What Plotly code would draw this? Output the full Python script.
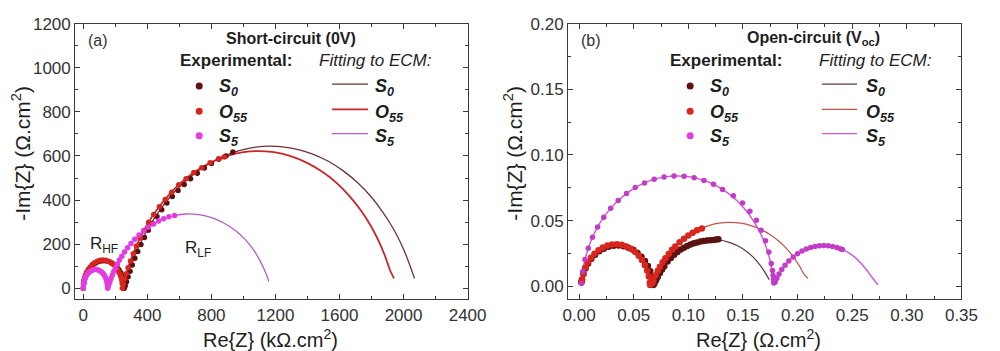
import plotly.graph_objects as go

# ---------------- DATA ----------------
# Panel (a): short-circuit, Re/Im in kOhm.cm2
a_S0_exp_x = [0, 2, 5, 9, 15, 23, 33, 45, 59, 75, 92, 110, 128, 146, 164, 181, 197, 211, 223, 233, 241, 247, 251, 254, 256,
              262, 270, 280, 292, 306, 322, 340, 360, 382, 406, 432, 460, 490, 522, 556, 592, 630, 670, 712, 756, 800, 846, 890, 934]
a_S0_exp_y = [0, 22, 35, 46, 59, 72, 84, 95, 105, 114, 120, 124, 125, 124, 120, 114, 105, 95, 84, 72, 59, 46, 35, 22, 0,
              12, 30, 52, 78, 106, 136, 167, 199, 230, 263, 294, 326, 356, 387, 416, 444, 471, 497, 522, 545, 566, 585, 600, 618]
a_S0_fit_x = [0, 2, 5, 9, 15, 23, 33, 45, 59, 75, 92, 110, 128, 146, 164, 181, 197, 211, 223, 233, 241, 247, 251, 254, 256,
              270, 290, 320, 360, 410, 470, 540, 620, 710, 810, 920, 1040, 1170, 1300, 1420, 1530, 1630, 1720, 1800, 1870,
              1930, 1980, 2020, 2050, 2068]
a_S0_fit_y = [0, 22, 35, 46, 59, 72, 84, 95, 105, 114, 120, 124, 125, 124, 120, 114, 105, 95, 84, 72, 59, 46, 35, 22, 0,
              37, 83, 142, 209, 278, 346, 413, 474, 529, 576, 612, 636, 645, 636, 612, 576, 529, 474, 413, 346,
              278, 209, 142, 83, 45]

a_O55_exp_x = [0, 2, 5, 9, 14, 21, 31, 43, 56, 71, 87, 104, 122, 140, 157, 173, 188, 201, 213, 223, 231, 237, 241, 243, 244,
               250, 258, 268, 280, 295, 312, 332, 355, 380, 408, 440, 475, 512, 552, 596, 642, 690, 740, 792, 846, 880]
a_O55_exp_y = [0, 22, 36, 48, 60, 72, 85, 97, 108, 116, 123, 127, 128, 127, 123, 116, 108, 97, 85, 72, 60, 48, 36, 22, 0,
               18, 44, 66, 93, 124, 157, 192, 228, 262, 300, 335, 370, 403, 436, 470, 497, 525, 547, 569, 587, 595]
a_O55_fit_x = [0, 2, 5, 9, 14, 21, 31, 43, 56, 71, 87, 104, 122, 140, 157, 173, 188, 201, 213, 223, 231, 237, 241, 243, 244,
               255, 275, 305, 345, 395, 455, 525, 605, 695, 795, 905, 1000, 1095, 1190, 1285, 1395, 1495, 1585, 1665,
               1735, 1795, 1845, 1885, 1915, 1940]
a_O55_fit_y = [0, 22, 36, 48, 60, 72, 85, 97, 108, 116, 123, 127, 128, 127, 123, 116, 108, 97, 85, 72, 60, 48, 36, 22, 0,
               32, 83, 145, 214, 284, 352, 416, 476, 527, 570, 602, 617, 622, 617, 602, 570, 527, 476, 416,
               352, 284, 214, 145, 83, 45]

a_S5_exp_x = [0, 1, 3, 6, 10, 15, 22, 30, 40, 52, 64, 76, 88, 100, 112, 122, 130, 137, 142, 146, 149, 151, 152,
              156, 161, 167, 174, 182, 191, 201, 213, 226, 241, 258, 277, 298, 322, 348, 376, 406, 438, 470, 502, 535, 570]
a_S5_exp_y = [0, 14, 24, 33, 42, 51, 60, 68, 75, 81, 84, 85, 84, 81, 75, 68, 60, 51, 42, 33, 24, 14, 0,
              10, 21, 33, 47, 62, 77, 93, 110, 128, 146, 165, 184, 203, 223, 242, 260, 277, 292, 305, 315, 324, 330]
a_S5_fit_x = [0, 1, 3, 6, 10, 15, 22, 30, 40, 52, 64, 76, 88, 100, 112, 122, 130, 137, 142, 146, 149, 151, 152,
              161, 174, 191, 213, 241, 277, 322, 376, 438, 502, 570, 640, 730, 810, 880, 950, 1010, 1060, 1100,
              1130, 1150, 1158]
a_S5_fit_y = [0, 14, 24, 33, 42, 51, 60, 68, 75, 81, 84, 85, 84, 81, 75, 68, 60, 51, 42, 33, 24, 14, 0,
              21, 47, 77, 110, 146, 184, 223, 260, 292, 315, 330, 337, 333, 318, 295, 262, 222, 178, 130,
              85, 50, 31]

# Panel (b): open-circuit, Ohm.cm2
b_S0_exp_x = [0.0021, 0.0027, 0.0040, 0.0059, 0.0083, 0.0113, 0.0147, 0.0185, 0.0226, 0.0270, 0.0316, 0.0362, 0.0407,
              0.0452, 0.0495, 0.0535, 0.0571, 0.0603, 0.0630, 0.0651, 0.0667, 0.0677, 0.0680,
              0.0690, 0.0705, 0.0720, 0.0740, 0.0760, 0.0780, 0.0810, 0.0840, 0.0870, 0.0900, 0.0930, 0.0960, 0.0990,
              0.1020, 0.1050, 0.1080, 0.1110, 0.1140, 0.1170, 0.1200, 0.1230, 0.1255, 0.1275]
b_S0_exp_y = [0.0030, 0.0049, 0.0093, 0.0135, 0.0174, 0.0209, 0.0240, 0.0266, 0.0286, 0.0300, 0.0308, 0.0310, 0.0305,
              0.0294, 0.0277, 0.0254, 0.0225, 0.0192, 0.0155, 0.0114, 0.0071, 0.0026, 0.0010,
              0.0020, 0.0045, 0.0070, 0.0100, 0.0127, 0.0153, 0.0188, 0.0215, 0.0239, 0.0261, 0.0279, 0.0294, 0.0307,
              0.0318, 0.0327, 0.0334, 0.0340, 0.0344, 0.0348, 0.0351, 0.0353, 0.0355, 0.0358]
b_S0_fit_x = [0.0021, 0.0027, 0.0040, 0.0059, 0.0083, 0.0113, 0.0147, 0.0185, 0.0226, 0.0270, 0.0316, 0.0362, 0.0407,
              0.0452, 0.0495, 0.0535, 0.0571, 0.0603, 0.0630, 0.0651, 0.0667, 0.0677, 0.0680,
              0.0700, 0.0730, 0.0770, 0.0820, 0.0880, 0.0950, 0.1030, 0.1110, 0.1180, 0.1220, 0.1280, 0.1360,
              0.1450, 0.1530, 0.1600, 0.1660, 0.1700, 0.1740]
b_S0_fit_y = [0.0030, 0.0049, 0.0093, 0.0135, 0.0174, 0.0209, 0.0240, 0.0266, 0.0286, 0.0300, 0.0308, 0.0310, 0.0305,
              0.0294, 0.0277, 0.0254, 0.0225, 0.0192, 0.0155, 0.0114, 0.0071, 0.0026, 0.0010,
              0.0041, 0.0092, 0.0145, 0.0198, 0.0247, 0.0289, 0.0323, 0.0345, 0.0354, 0.0355, 0.0352, 0.0338,
              0.0308, 0.0267, 0.0216, 0.0157, 0.0107, 0.0050]

b_O55_exp_x = [0.0021, 0.0027, 0.0039, 0.0057, 0.0080, 0.0108, 0.0141, 0.0178, 0.0217, 0.0259, 0.0302, 0.0346, 0.0390,
               0.0432, 0.0473, 0.0511, 0.0546, 0.0576, 0.0602, 0.0623, 0.0638, 0.0647, 0.0650,
               0.0655, 0.0670, 0.0680, 0.0700, 0.0720, 0.0740, 0.0765, 0.0790, 0.0820, 0.0850, 0.0880, 0.0920, 0.0960,
               0.1000, 0.1040, 0.1080, 0.1124]
b_O55_exp_y = [0.0030, 0.0051, 0.0096, 0.0140, 0.0180, 0.0216, 0.0248, 0.0274, 0.0295, 0.0310, 0.0318, 0.0320, 0.0315,
               0.0303, 0.0286, 0.0262, 0.0233, 0.0199, 0.0160, 0.0118, 0.0074, 0.0027, 0.0010,
               0.0015, 0.0023, 0.0045, 0.0084, 0.0117, 0.0149, 0.0182, 0.0214, 0.0246, 0.0277, 0.0303, 0.0335, 0.0362,
               0.0387, 0.0408, 0.0426, 0.0440]
b_O55_fit_x = [0.0021, 0.0027, 0.0039, 0.0057, 0.0080, 0.0108, 0.0141, 0.0178, 0.0217, 0.0259, 0.0302, 0.0346, 0.0390,
               0.0432, 0.0473, 0.0511, 0.0546, 0.0576, 0.0602, 0.0623, 0.0638, 0.0647, 0.0650,
               0.0670, 0.0700, 0.0740, 0.0790, 0.0850, 0.0920, 0.1000, 0.1090, 0.1180, 0.1280, 0.1380, 0.1480,
               0.1580, 0.1670, 0.1760, 0.1840, 0.1910, 0.1970, 0.2020, 0.2060, 0.2095]
b_O55_fit_y = [0.0030, 0.0051, 0.0096, 0.0140, 0.0180, 0.0216, 0.0248, 0.0274, 0.0295, 0.0310, 0.0318, 0.0320, 0.0315,
               0.0303, 0.0286, 0.0262, 0.0233, 0.0199, 0.0160, 0.0118, 0.0074, 0.0027, 0.0010,
               0.0023, 0.0084, 0.0149, 0.0214, 0.0277, 0.0335, 0.0387, 0.0430, 0.0460, 0.0480, 0.0486, 0.0480,
               0.0460, 0.0430, 0.0387, 0.0335, 0.0277, 0.0214, 0.0149, 0.0090, 0.0060]

b_S5_exp_x = [0.0022, 0.0033, 0.0054, 0.0084, 0.0123, 0.0170, 0.0226, 0.0289, 0.0358, 0.0434, 0.0514, 0.0599, 0.0687,
              0.0778, 0.0869, 0.0961, 0.1053, 0.1143, 0.1230, 0.1313, 0.1412, 0.1496, 0.1563, 0.1623, 0.1666, 0.1706,
              0.1737, 0.1759, 0.1771, 0.1776, 0.1780, 0.1783,
              0.1785, 0.1795, 0.1810, 0.1830, 0.1855, 0.1885, 0.1920, 0.1960, 0.2000, 0.2040, 0.2080, 0.2120, 0.2160,
              0.2200, 0.2240, 0.2280, 0.2320, 0.2360, 0.2390, 0.2410]
b_S5_exp_y = [0.0021, 0.0113, 0.0203, 0.0290, 0.0373, 0.0452, 0.0526, 0.0593, 0.0653, 0.0706, 0.0751, 0.0787, 0.0814,
              0.0831, 0.0839, 0.0838, 0.0827, 0.0806, 0.0776, 0.0737, 0.0690, 0.0634, 0.0571, 0.0502, 0.0426, 0.0346,
              0.0261, 0.0173, 0.0120, 0.0082, 0.0050, 0.0025,
              0.0030, 0.0033, 0.0061, 0.0093, 0.0127, 0.0160, 0.0193, 0.0223, 0.0248, 0.0268, 0.0283, 0.0295, 0.0303,
              0.0308, 0.0310, 0.0308, 0.0303, 0.0295, 0.0285, 0.0280]
b_S5_fit_x = [0.0022, 0.0033, 0.0054, 0.0084, 0.0123, 0.0170, 0.0226, 0.0289, 0.0358, 0.0434, 0.0514, 0.0599, 0.0687,
              0.0778, 0.0869, 0.0961, 0.1053, 0.1143, 0.1230, 0.1313, 0.1392, 0.1466, 0.1533, 0.1593, 0.1646, 0.1691,
              0.1727, 0.1754, 0.1771, 0.1782,
              0.1810, 0.1850, 0.1900, 0.1960, 0.2030, 0.2100, 0.2170, 0.2240, 0.2310, 0.2380, 0.2450, 0.2520, 0.2580,
              0.2630, 0.2670, 0.2705, 0.2735]
b_S5_fit_y = [0.0021, 0.0113, 0.0203, 0.0290, 0.0373, 0.0452, 0.0526, 0.0593, 0.0653, 0.0706, 0.0751, 0.0787, 0.0814,
              0.0831, 0.0839, 0.0838, 0.0827, 0.0806, 0.0776, 0.0737, 0.0690, 0.0634, 0.0571, 0.0502, 0.0426, 0.0346,
              0.0261, 0.0173, 0.0082, 0.0025,
              0.0061, 0.0120, 0.0175, 0.0223, 0.0263, 0.0290, 0.0305, 0.0310, 0.0305, 0.0290, 0.0263, 0.0223, 0.0175,
              0.0125, 0.0080, 0.0042, 0.0012]

a_xticks = [0, 400, 800, 1200, 1600, 2000, 2400]
a_yticks = [0, 200, 400, 600, 800, 1000, 1200]
b_xticks = [0.00, 0.05, 0.10, 0.15, 0.20, 0.25, 0.30, 0.35]
b_yticks = [0.00, 0.05, 0.10, 0.15, 0.20]

series_labels = ["S<sub>0</sub>", "O<sub>55</sub>", "S<sub>5</sub>"]

# ---------------- STYLE ----------------
W, H = 1000, 351
FONT = "Arial, Liberation Sans, sans-serif"
C_S0, C_O55, C_S5 = "#5c1212", "#d8261e", "#e23ce0"
a_fit_cols = ["#6a3434", "#c8262a", "#b45cc4"]
b_fit_cols = ["#5e3838", "#c45448", "#d25ad6"]
exp_cols = [C_S0, C_O55, C_S5]

fig = go.Figure()


def add_fit(x, y, color, width, ax):
    fig.add_trace(go.Scatter(x=x, y=y, mode="lines", line=dict(color=color, width=width, shape="spline", smoothing=0.6),
                             xaxis=ax[0], yaxis=ax[1], showlegend=False, hoverinfo="skip"))


def add_exp(x, y, color, size, ax):
    fig.add_trace(go.Scatter(x=x, y=y, mode="markers", marker=dict(color=color, size=size, line=dict(width=0)),
                             xaxis=ax[0], yaxis=ax[1], showlegend=False))


A = ("x", "y")
B = ("x2", "y2")

# panel a
add_fit(a_S0_fit_x, a_S0_fit_y, a_fit_cols[0], 1.3, A)
add_fit(a_O55_fit_x, a_O55_fit_y, a_fit_cols[1], 1.8, A)
add_fit(a_S5_fit_x, a_S5_fit_y, a_fit_cols[2], 1.3, A)
add_exp(a_S0_exp_x, a_S0_exp_y, C_S0, 5.5, A)
add_exp(a_O55_exp_x, a_O55_exp_y, C_O55, 5.5, A)
add_exp(a_S5_exp_x, a_S5_exp_y, C_S5, 5.5, A)
# panel b
add_fit(b_S0_fit_x, b_S0_fit_y, b_fit_cols[0], 1.2, B)
add_fit(b_O55_fit_x, b_O55_fit_y, b_fit_cols[1], 1.2, B)
add_fit(b_S5_fit_x, b_S5_fit_y, b_fit_cols[2], 1.5, B)
add_exp(b_S0_exp_x, b_S0_exp_y, C_S0, 6.5, B)
add_exp(b_O55_exp_x, b_O55_exp_y, C_O55, 6.5, B)
add_exp(b_S5_exp_x, b_S5_exp_y, "#c23cc8", 5.5, B)


def px(x):
    return x / W


def py(y):
    return 1 - y / H


axis_common = dict(showline=True, linecolor="#3a3a3a", linewidth=1.2, mirror="ticks", ticks="inside", ticklen=5,
                   tickwidth=1.1, tickcolor="#3a3a3a", showgrid=False, zeroline=False,
                   tickfont=dict(family=FONT, size=17, color="#333333"))

fig.update_layout(
    width=W, height=H, margin=dict(l=0, r=0, t=0, b=0),
    paper_bgcolor="white", plot_bgcolor="white", showlegend=False,
    xaxis=dict(domain=[px(72), px(474)], range=[-50, 2400], tickvals=a_xticks, anchor="y",
               minor=dict(ticks="inside", ticklen=3, dtick=200, tick0=0, tickcolor="#3a3a3a"), **axis_common),
    yaxis=dict(domain=[py(298), py(15)], range=[-50, 1200], tickvals=a_yticks, anchor="x",
               minor=dict(ticks="inside", ticklen=3, dtick=100, tick0=0, tickcolor="#3a3a3a"), **axis_common),
    xaxis2=dict(domain=[px(577), px(980)], range=[-0.01, 0.35], tickvals=b_xticks, tickformat=".2f", anchor="y2",
                minor=dict(ticks="inside", ticklen=3, dtick=0.025, tick0=0, tickcolor="#3a3a3a"), **axis_common),
    yaxis2=dict(domain=[py(298), py(15)], range=[-0.01, 0.20], tickvals=b_yticks, tickformat=".2f", anchor="x2",
                minor=dict(ticks="inside", ticklen=3, dtick=0.025, tick0=0, tickcolor="#3a3a3a"), **axis_common),
)

ann = []
shapes = []


def text(x, y, s, size, xanchor="center", angle=0, color="#1e1e1e"):
    ann.append(dict(x=px(x), y=py(y), xref="paper", yref="paper", text=s, showarrow=False, xanchor=xanchor,
                    yanchor="middle", textangle=angle, font=dict(family=FONT, size=size, color=color)))


def dot(x, y, color, r=3.5):
    shapes.append(dict(type="circle", xref="paper", yref="paper", xsizemode="pixel", ysizemode="pixel",
                       xanchor=px(x), yanchor=py(y), x0=-r, x1=r, y0=-r, y1=r, fillcolor=color, line=dict(width=0)))


def seg(x0, x1, y, color, width):
    shapes.append(dict(type="line", xref="paper", yref="paper", x0=px(x0), x1=px(x1), y0=py(y), y1=py(y),
                       line=dict(color=color, width=width)))


# axis titles
text(17, 148, "-Im{Z} (\u03a9.cm<sup>2</sup>)", 21, angle=-90)
text(272, 338, "Re{Z} (k\u03a9.cm<sup>2</sup>)", 20)
text(521, 148, "-Im{Z} (\u03a9.cm<sup>2</sup>)", 21, angle=-90)
text(772, 338, "Re{Z} (\u03a9.cm<sup>2</sup>)", 20)

# panel a legend block
text(83, 32, "(a)", 16, xanchor="left", color="#333333")
text(293, 30, "<b>Short-circuit (0V)</b>", 16)
text(237, 53, "<b>Experimental:</b>", 17)
text(380, 53, "<i>Fitting to ECM:</i>", 17)
rows = [79, 105, 130]
for i, r in enumerate(rows):
    dot(199, r, exp_cols[i])
    text(217, r + 2, "<b><i>" + series_labels[i] + "</i></b>", 18, xanchor="left")
    seg(335, 372, r - 2, a_fit_cols[i], 1.8 if i == 1 else 1.2)
    text(377, r + 2, "<b><i>" + series_labels[i] + "</i></b>", 18, xanchor="left")
text(101, 242, "R<sub>HF</sub>", 17)
text(198, 246, "R<sub>LF</sub>", 17)

# panel b legend block
text(588, 32, "(b)", 16, xanchor="left", color="#333333")
text(828, 30, "<b>Open-circuit (V<sub>oc</sub>)</b>", 16)
text(739, 53, "<b>Experimental:</b>", 17)
text(892, 53, "<i>Fitting to ECM:</i>", 17)
for i, r in enumerate(rows):
    dot(702, r, exp_cols[i])
    text(720, r + 2, "<b><i>" + series_labels[i] + "</i></b>", 18, xanchor="left")
    seg(837, 873, r - 2, b_fit_cols[i], 1.2)
    text(880, r + 2, "<b><i>" + series_labels[i] + "</i></b>", 18, xanchor="left")

fig.update_layout(annotations=ann, shapes=shapes)
fig.write_html("out.html")
